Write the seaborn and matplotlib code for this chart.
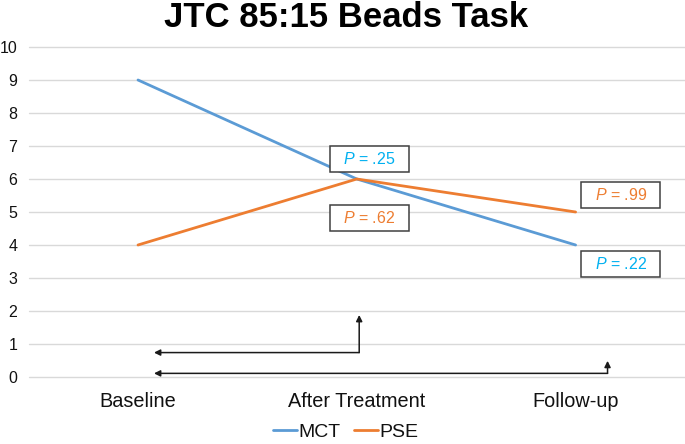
import matplotlib
matplotlib.use("Agg")
import matplotlib.pyplot as plt
import seaborn as sns
import pandas as pd
from matplotlib.patches import Rectangle

# ---- data ----
categories = ["Baseline", "After Treatment", "Follow-up"]
mct_values = [9, 6, 4]
pse_values = [4, 6, 5]
groups = ["MCT", "PSE"]
y_ticks = list(range(0, 11))
p_labels = [".25", ".62", ".99", ".22"]
p_groups = ["MCT", "PSE", "PSE", "MCT"]
p_box_x = [1.056, 1.056, 2.207, 2.207]
p_box_y = [6.61, 4.83, 5.51, 3.43]

sns.set_theme(style="white")
plt.rcParams['font.family'] = ['Liberation Sans', 'DejaVu Sans']
plt.rcParams['mathtext.fontset'] = 'custom'
plt.rcParams['mathtext.it'] = 'Liberation Sans:italic'
plt.rcParams['mathtext.rm'] = 'Liberation Sans'

df = pd.DataFrame({
    "Time": categories * 2,
    "Score": mct_values + pse_values,
    "Group": [groups[0]] * 3 + [groups[1]] * 3,
})

palette = {"MCT": "#5B9BD5", "PSE": "#ED7D31"}
text_colors = {"MCT": "#00B0F0", "PSE": "#ED7D31"}

fig = plt.figure(figsize=(6.85, 4.44), dpi=100)
ax = fig.add_axes([28.6 / 685, 1 - 377 / 444, (685 - 28.6) / 685, 330 / 444])

sns.lineplot(data=df, x="Time", y="Score", hue="Group", palette=palette,
             linewidth=2.0, ax=ax, sort=False)

handles, labels = ax.get_legend_handles_labels()
ax.get_legend().remove()
for h in handles:
    h.set_linewidth(2.0)
fig.legend(handles, labels, loc="center", bbox_to_anchor=(346 / 685, 1 - 432 / 444),
           ncol=2, frameon=False, fontsize=14, handlelength=1.2,
           handletextpad=0.1, columnspacing=0.7, labelcolor="#111111")

ax.set_xlim(-0.5, 2.5)
ax.set_ylim(0, 10)
ax.set_yticks(y_ticks)
ax.yaxis.grid(True, color="#D9D9D9", linewidth=1.0)
for gl in ax.get_ygridlines():
    gl.set_clip_on(False)
ax.xaxis.grid(False)
for s in ax.spines.values():
    s.set_visible(False)
ax.set_xlabel("")
ax.set_ylabel("")
ax.tick_params(axis="y", length=0, labelsize=11.5, pad=8, labelcolor="#111111")
ax.tick_params(axis="x", length=0, labelsize=14.3, pad=11, labelcolor="#111111")

# P-value boxes
bw, bh = 0.361, 0.79
for lab, grp, bx, by in zip(p_labels, p_groups, p_box_x, p_box_y):
    ax.add_patch(Rectangle((bx - bw / 2, by - bh / 2), bw, bh, facecolor="white",
                           edgecolor="#404040", linewidth=1.1, zorder=4))
    ax.text(bx, by, r"$\it{P}$ = " + lab, ha="center", va="center",
            fontsize=11.5, color=text_colors[grp], zorder=5)

# arrows (corner -> tips)
arrow_corners = [(1.011, 0.74), (2.146, 0.11)]
arrow_up_tips = [1.88, 0.49]
arrow_left_tip = 0.073
for (cx, cy), uy in zip(arrow_corners, arrow_up_tips):
    kw = dict(arrowstyle="-|>", color="#1a1a1a", lw=1.1, mutation_scale=9,
              shrinkA=0, shrinkB=0)
    ax.annotate("", xy=(cx, uy), xytext=(cx, cy), arrowprops=kw, zorder=3)
    ax.annotate("", xy=(arrow_left_tip, cy), xytext=(cx, cy), arrowprops=kw, zorder=3)

fig.text(346.5 / 685, 1 - 27 / 444, "JTC 85:15 Beads Task", ha="center", va="baseline",
         fontsize=25, fontweight="bold", color="#000000")

fig.savefig("out.png", dpi=100)
